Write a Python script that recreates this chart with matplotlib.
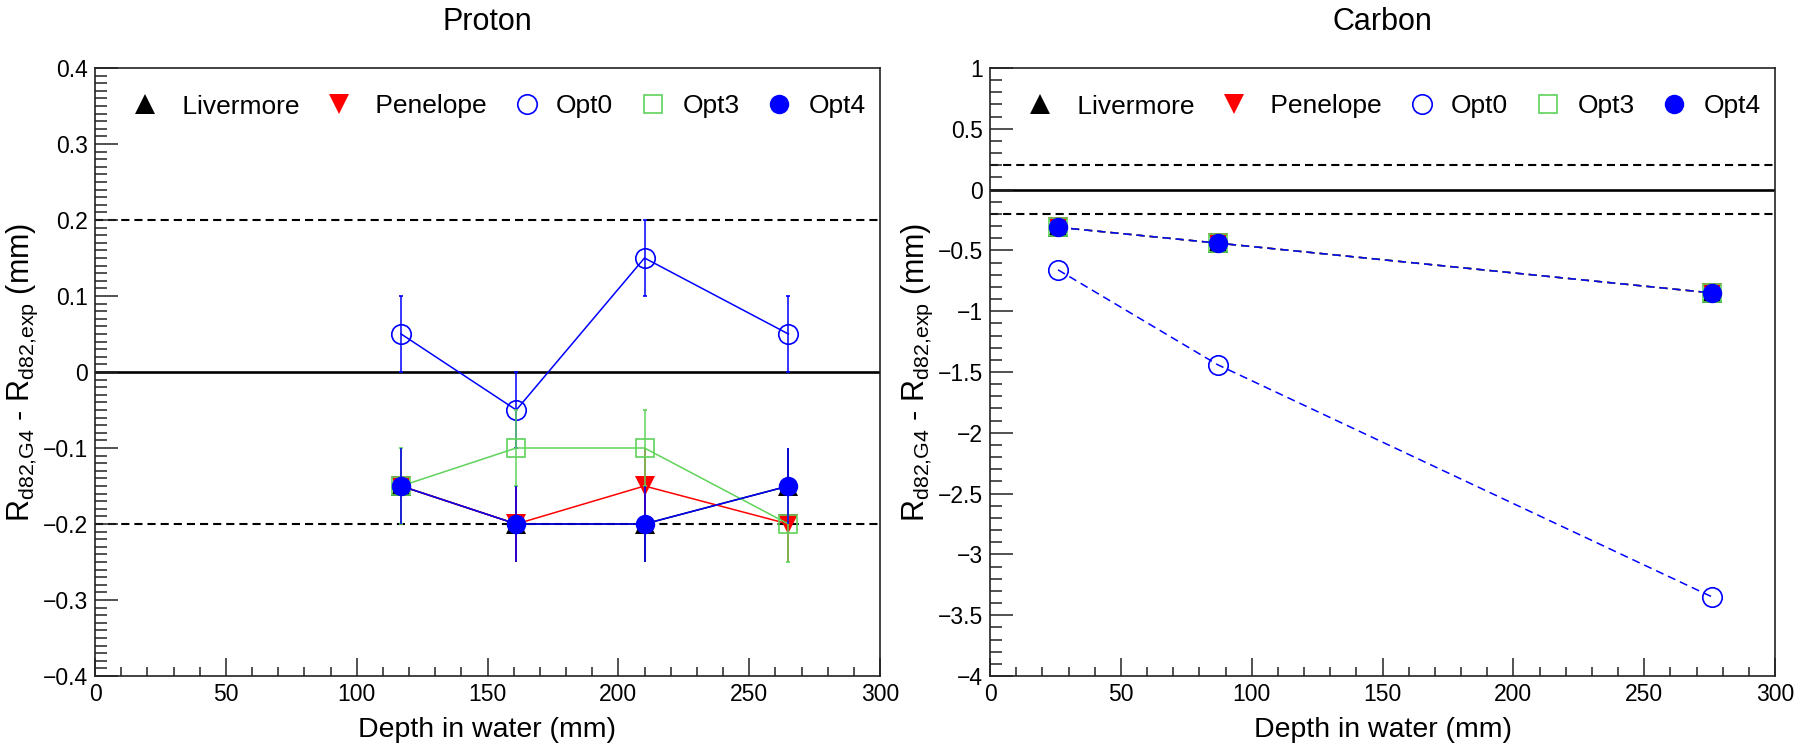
import matplotlib
matplotlib.use('Agg')
import matplotlib.pyplot as plt
from matplotlib.lines import Line2D
from matplotlib.ticker import MultipleLocator, FuncFormatter

plt.rcParams['font.family'] = ['Liberation Sans', 'DejaVu Sans']
plt.rcParams['mathtext.fontset'] = 'custom'
plt.rcParams['mathtext.rm'] = 'Liberation Sans'
plt.rcParams['mathtext.it'] = 'Liberation Sans:italic'
plt.rcParams['mathtext.bf'] = 'Liberation Sans:bold'

# ---------------- data ----------------
series_names = ['Livermore', 'Penelope', 'Opt0', 'Opt3', 'Opt4']

proton_depth = [117, 161, 210, 265]
proton_livermore = [-0.15, -0.20, -0.20, -0.15]
proton_penelope = [-0.15, -0.20, -0.15, -0.20]
proton_opt0 = [0.05, -0.05, 0.15, 0.05]
proton_opt3 = [-0.15, -0.10, -0.10, -0.20]
proton_opt4 = [-0.15, -0.20, -0.20, -0.15]
proton_err = [0.05, 0.05, 0.05, 0.05]

carbon_depth = [26, 87, 276]
carbon_livermore = [-0.31, -0.44, -0.85]
carbon_penelope = [-0.31, -0.44, -0.85]
carbon_opt0 = [-0.66, -1.44, -3.35]
carbon_opt3 = [-0.31, -0.44, -0.85]
carbon_opt4 = [-0.31, -0.44, -0.85]

tolerance_lines = [0.2, -0.2]
zero_line = 0.0

panel_titles = ['Proton', 'Carbon']
x_label = 'Depth in water (mm)'
y_label = r'R$_{\mathregular{d82{,}G4}}$ - R$_{\mathregular{d82{,}exp}}$ (mm)'

# ---------------- styles ----------------
GREEN = '#5fd35a'
styles = {
    'Livermore': dict(marker='^', color='black', filled=True, ms=14),
    'Penelope': dict(marker='v', color='red', filled=True, ms=14),
    'Opt0': dict(marker='o', color='blue', filled=False, ms=14),
    'Opt3': dict(marker='s', color=GREEN, filled=False, ms=13.5),
    'Opt4': dict(marker='o', color='blue', filled=True, ms=14),
}

W, H = 1800, 753
fig = plt.figure(figsize=(W / 100, H / 100), dpi=100)
ax_l = fig.add_axes([95 / W, 1 - 676 / H, 785 / W, 608 / H])
ax_r = fig.add_axes([990 / W, 1 - 676 / H, 785 / W, 608 / H])


def fmt(v, pos):
    if abs(v) < 1e-9:
        return '0'
    s = f'{v:.2f}'.rstrip('0').rstrip('.')
    return s.replace('-', '\u2212')


def style_axes(ax, ylim, ymajor, yminor, title):
    ax.set_xlim(0, 300)
    ax.set_ylim(*ylim)
    ax.xaxis.set_major_locator(MultipleLocator(50))
    ax.xaxis.set_minor_locator(MultipleLocator(10))
    ax.yaxis.set_major_locator(MultipleLocator(ymajor))
    ax.yaxis.set_minor_locator(MultipleLocator(yminor))
    ax.yaxis.set_major_formatter(FuncFormatter(fmt))
    ax.xaxis.set_major_formatter(FuncFormatter(fmt))
    ax.tick_params(axis='both', which='both', direction='in', top=False, right=False,
                   labelsize=16.5, width=1.1, color='#222222')
    ax.tick_params(axis='x', which='major', length=13, pad=5)
    ax.tick_params(axis='x', which='minor', length=6.5)
    ax.tick_params(axis='y', which='major', length=16.5, pad=5)
    ax.tick_params(axis='y', which='minor', length=8.5)
    for sp in ax.spines.values():
        sp.set_linewidth(1.2)
        sp.set_color('#222222')
    ax.set_xlabel(x_label, fontsize=20.5)
    ax.xaxis.label.set_verticalalignment('center')
    ax.xaxis.set_label_coords(0.5, -54 / 608)
    ax.set_ylabel(y_label, fontsize=22)
    ax.yaxis.label.set_verticalalignment('center')
    ax.yaxis.set_label_coords(-73 / 785, 0.5)
    ax.text(0.5, 1 + (68 - 30) / 608, title, transform=ax.transAxes, ha='center',
            va='baseline', fontsize=22)
    for yv in tolerance_lines:
        ax.axhline(yv, color='black', lw=1.5, ls=(0, (3.9, 2.4)), zorder=1)
    ax.axhline(zero_line, color='black', lw=1.9, zorder=1)


def add_legend(ax):
    handles = []
    for name in series_names:
        st = styles[name]
        handles.append(Line2D([], [], ls='none', marker=st['marker'], ms=st['ms'],
                              mfc=st['color'] if st['filled'] else 'none',
                              mec=st['color'], mew=0 if st['filled'] else 1.2))
    labels = [' ' + n if n in ('Livermore', 'Penelope') else n for n in series_names]
    ax.legend(handles, labels, ncol=5, loc='center left',
              bbox_to_anchor=(37 / 785, (676 - 106.5) / 608), frameon=False,
              fontsize=19, handlelength=1.0, handletextpad=0.62, columnspacing=1.0,
              borderpad=0, borderaxespad=0)


# ---------------- proton panel ----------------
style_axes(ax_l, (-0.4, 0.4), 0.1, 0.01, panel_titles[0])
proton_vals = {'Livermore': proton_livermore, 'Penelope': proton_penelope,
               'Opt0': proton_opt0, 'Opt3': proton_opt3, 'Opt4': proton_opt4}
for i, name in enumerate(series_names):
    st = styles[name]
    ax_l.errorbar(proton_depth, proton_vals[name], yerr=proton_err,
                  color=st['color'], lw=1.1, elinewidth=1.1, capsize=1.6, capthick=1.1,
                  marker=st['marker'], ms=st['ms'],
                  mfc=st['color'] if st['filled'] else 'none', mec=st['color'],
                  mew=0 if st['filled'] else 1.2, zorder=3 + i)
add_legend(ax_l)

# ---------------- carbon panel ----------------
style_axes(ax_r, (-4, 1), 0.5, 0.1, panel_titles[1])
carbon_vals = {'Livermore': carbon_livermore, 'Penelope': carbon_penelope,
               'Opt0': carbon_opt0, 'Opt3': carbon_opt3, 'Opt4': carbon_opt4}
for i, name in enumerate(series_names):
    st = styles[name]
    ax_r.plot(carbon_depth, carbon_vals[name], color=st['color'], lw=1.1,
              ls=(0, (5.3, 3.3)), marker=st['marker'], ms=st['ms'],
              mfc=st['color'] if st['filled'] else 'none', mec=st['color'],
              mew=0 if st['filled'] else 1.2, zorder=3 + i)
add_legend(ax_r)

fig.savefig('out.png', dpi=100)
